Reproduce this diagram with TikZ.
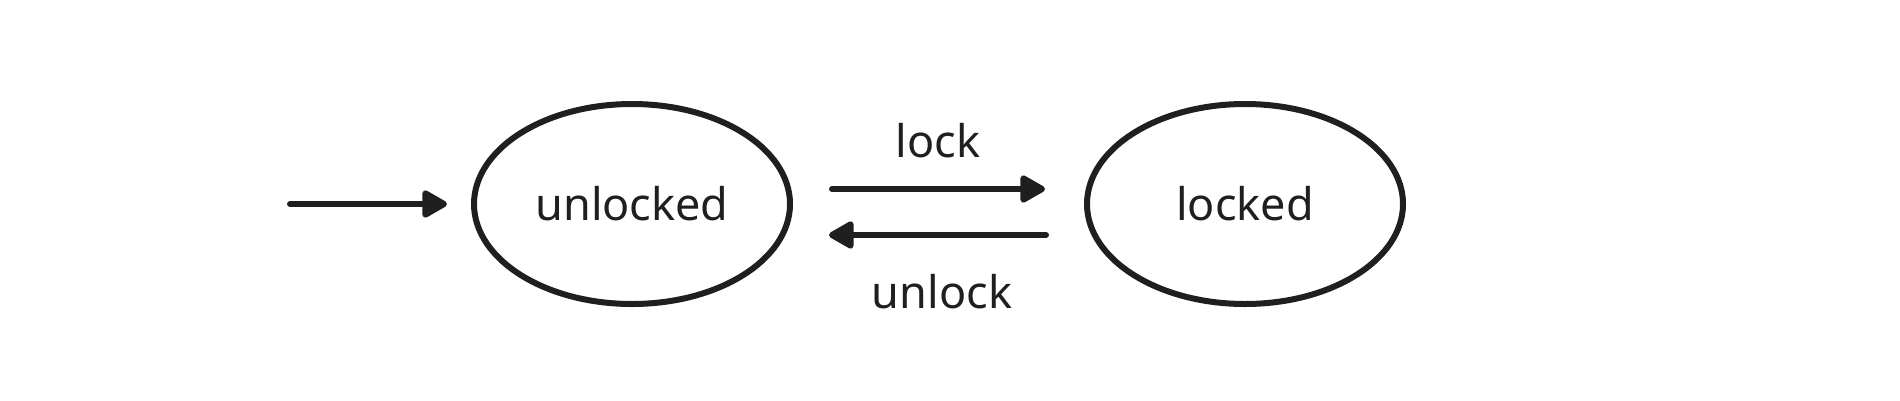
\documentclass[tikz,border=0pt]{standalone}
\usepackage{fontspec}
\setmainfont[FakeBold=1.2,AutoFakeBold=false]{Noto Sans}
\usetikzlibrary{shapes.geometric,arrows.meta}
\definecolor{ink}{HTML}{1F1F1F}
\tikzset{
  state/.style={ellipse, draw=ink, line width=6pt, minimum width=316pt, minimum height=200pt, inner sep=0pt, outer sep=0pt, text=ink, font=\fontsize{45}{52}\selectfont\bfseries},
  conn/.style={draw=ink, line width=6pt, line cap=round, -{Triangle[round, length=28pt, width=30pt]}},
  lbl/.style={text=ink, anchor=base, inner sep=0pt, font=\fontsize{45}{52}\selectfont\bfseries}
}
\begin{document}
\begin{tikzpicture}[x=1pt, y=-1pt]
\useasboundingbox (0,0) rectangle (1900,400);
\node[state] (u) at (632,204) {\raisebox{-3pt}{unlocked}};
\node[state] (l) at (1245,204) {\raisebox{-3pt}{locked}};
\coordinate (start) at (290,204);
\draw[conn, shorten >=27pt] (start) -- (u.west);
\draw[conn, shorten <=42pt, shorten >=42pt] ([yshift=15pt]u.east) -- ([yshift=15pt]l.west);
\draw[conn, shorten <=41pt, shorten >=39pt] ([yshift=-31pt]l.west) -- ([yshift=-31pt]u.east);
\node[lbl] (lockl) at (938,157) {lock};
\node[lbl] (unlockl) at (942,308) {unlock};
\end{tikzpicture}
\end{document}
